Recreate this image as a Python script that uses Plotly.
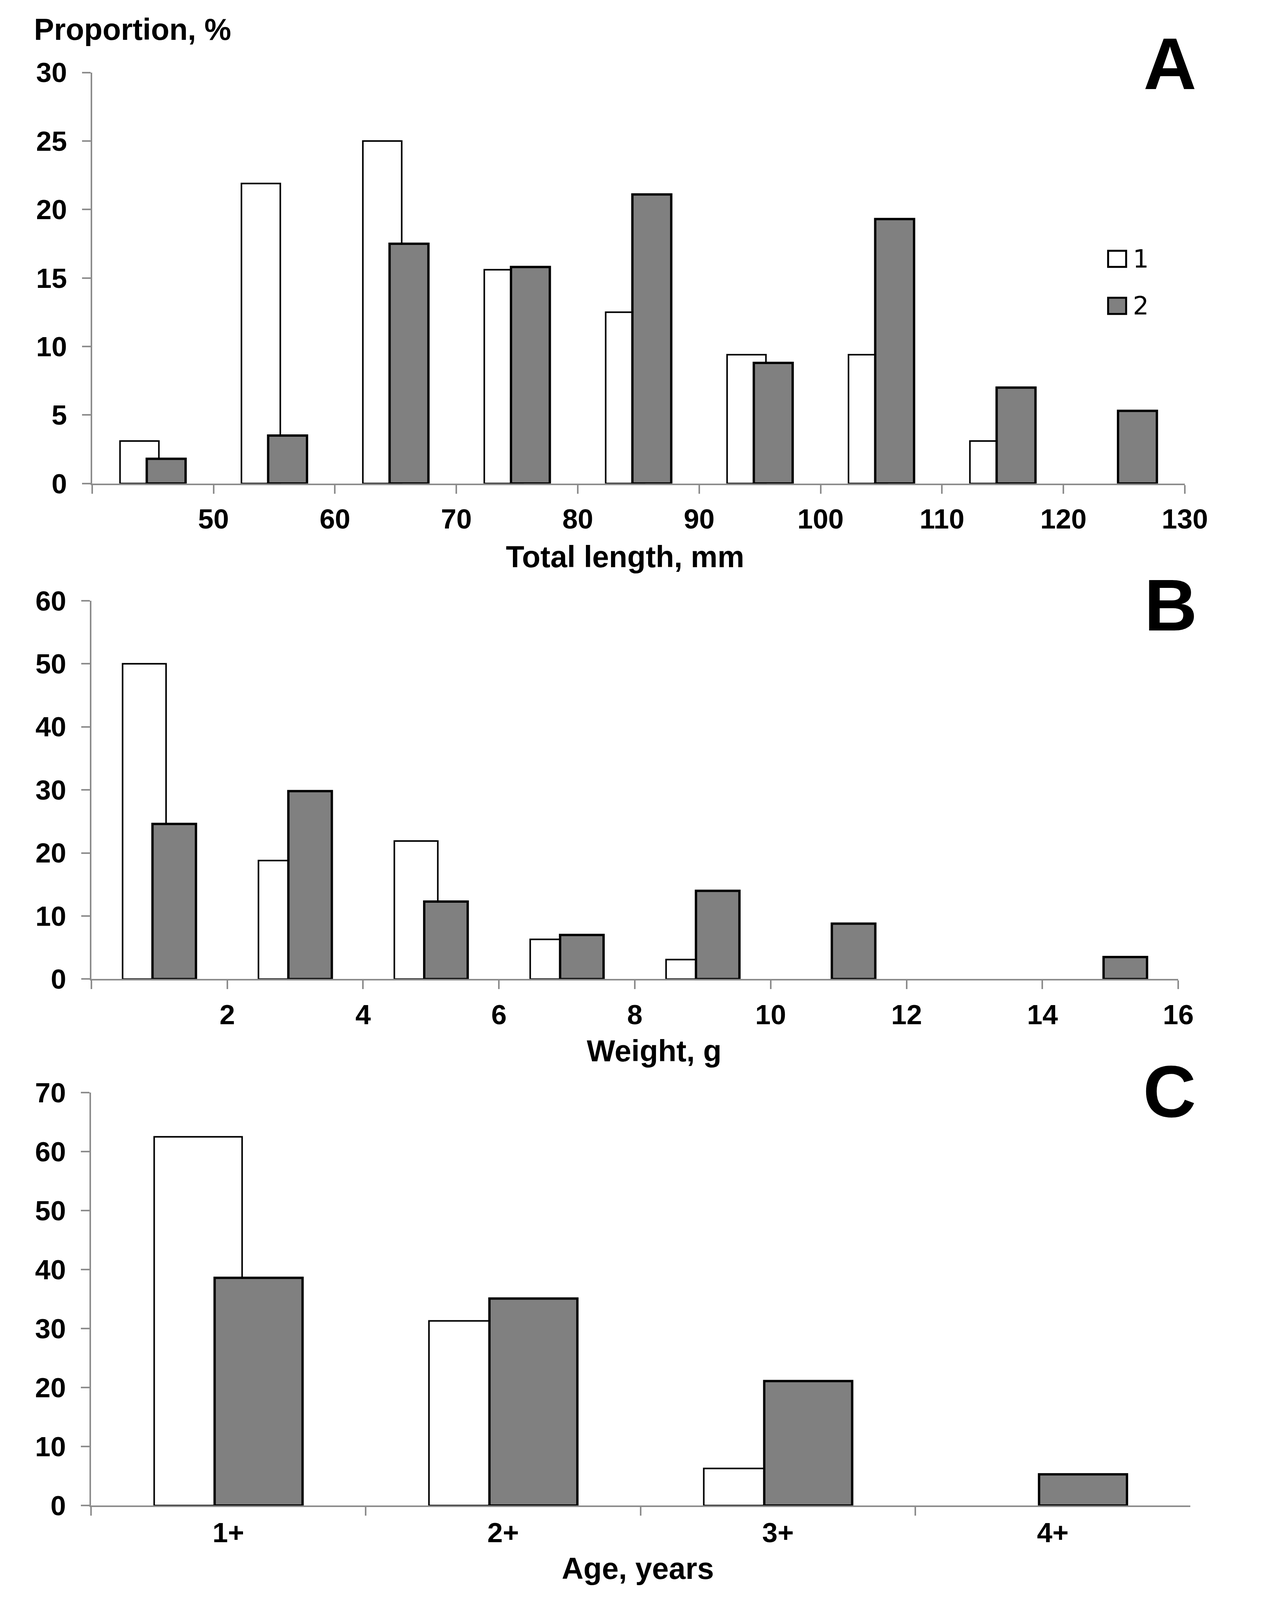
import plotly.graph_objects as go

# Size-structure data (% of fish in each class)
length_bins = [45, 55, 65, 75, 85, 95, 105, 115, 125]
length_1 = [3.1, 21.9, 25.0, 15.6, 12.5, 9.4, 9.4, 3.1, None]
length_2 = [1.8, 3.5, 17.5, 15.8, 21.1, 8.8, 19.3, 7.0, 5.3]

weight_bins = [1, 3, 5, 7, 9, 11, 13, 15]
weight_1 = [50.0, 18.8, 21.9, 6.3, 3.1, None, None, None]
weight_2 = [24.6, 29.8, 12.3, 7.0, 14.0, 8.8, None, 3.5]

age_classes = ["1+", "2+", "3+", "4+"]
age_1 = [62.5, 31.3, 6.3, None]
age_2 = [38.6, 35.1, 21.1, 5.3]

# the photographed page area is shorter than the nominal window, so the
# layout below is laid out in reference pixels and squeezed to fit
FW, FH = 3243, 4120
SY = 4176 / 4765
TOP = 48

FONT = "Liberation Sans, Arial, sans-serif"
AXIS_GREY = "#8c8c8c"
BAR_GREY = "#808080"


def fx(x):
    return (x - 8) / FW


def fy(y):
    return 1 - (y * SY - TOP) / FH


def pair(x, y1, y2, spacing, xa, ya):
    """White bar (series 1) left, grey bar (series 2) right, overlapping a bit."""
    w = 0.32 * spacing
    return [
        go.Bar(x=x, y=y1, width=w, offset=-0.27 * spacing,
               marker=dict(color="white", line=dict(color="black", width=4)),
               xaxis=xa, yaxis=ya, name="1", showlegend=False),
        go.Bar(x=x, y=y2, width=w, offset=-0.05 * spacing,
               marker=dict(color=BAR_GREY, line=dict(color="black", width=6)),
               xaxis=xa, yaxis=ya, name="2", showlegend=False),
    ]


traces = (pair(length_bins, length_1, length_2, 10, "x", "y")
          + pair(weight_bins, weight_1, weight_2, 2, "x2", "y2")
          + pair(age_classes, age_1, age_2, 1, "x3", "y3"))

fig = go.Figure(data=traces)

TICKFONT = dict(family=FONT, size=71, color="black", weight="bold")
AX = dict(
    showline=True, linecolor=AXIS_GREY, linewidth=4,
    ticks="outside", ticklen=22, tickwidth=4, tickcolor=AXIS_GREY,
    showgrid=False, zeroline=False, tickfont=TICKFONT,
)
XAX = dict(AX, ticklabelstandoff=4)
YAX = dict(AX, ticklabelstandoff=24)

len_ticks = list(range(40, 131, 10))
wt_ticks = list(range(0, 17, 2))

fig.update_layout(
    width=FW, height=FH,
    margin=dict(l=0, r=0, t=0, b=0),
    paper_bgcolor="white", plot_bgcolor="white",
    barmode="overlay",
    font=dict(family=FONT, color="black"),
    # panel A
    xaxis=dict(XAX, domain=[fx(240), fx(3089)], range=[40, 130], anchor="y",
               tickvals=len_ticks,
               ticktext=[""] + [str(v) for v in len_ticks[1:]]),
    yaxis=dict(YAX, domain=[fy(1440), fy(216)], range=[0, 30], dtick=5,
               anchor="x"),
    # panel B
    xaxis2=dict(XAX, domain=[fx(238), fx(3072)], range=[0, 16], anchor="y2",
                tickvals=wt_ticks,
                ticktext=[""] + [str(v) for v in wt_ticks[1:]]),
    yaxis2=dict(YAX, domain=[fy(2916), fy(1789)], range=[0, 60], dtick=10,
                anchor="x2"),
    # panel C
    xaxis3=dict(XAX, domain=[fx(237), fx(3103)], type="category",
                tickson="boundaries", range=[-0.5, 3.5], anchor="y3"),
    yaxis3=dict(YAX, domain=[fy(4484), fy(3254)], range=[0, 70], dtick=10,
                anchor="x3"),
)

BOLD = dict(family=FONT, color="black", weight="bold")
LEG = dict(family="DejaVu Sans", size=64, color="black")
notes = [
    dict(text="Proportion, %", x=fx(86), y=fy(87), xanchor="left",
         font=dict(BOLD, size=77)),
    dict(text="A", x=fx(3050), y=fy(190), xanchor="center",
         font=dict(BOLD, size=188)),
    dict(text="B", x=fx(3052), y=fy(1802), xanchor="center",
         font=dict(BOLD, size=188)),
    dict(text="C", x=fx(3049), y=fy(3251), xanchor="center",
         font=dict(BOLD, size=188)),
    dict(text="Total length, mm", x=fx(1630), y=fy(1658), xanchor="center",
         font=dict(BOLD, size=77)),
    dict(text="Weight, g", x=fx(1705), y=fy(3130), xanchor="center",
         font=dict(BOLD, size=77)),
    dict(text="Age, years", x=fx(1663), y=fy(4671), xanchor="center",
         font=dict(BOLD, size=77)),
    dict(text="1", x=fx(2952), y=fy(771), xanchor="left", font=LEG),
    dict(text="2", x=fx(2952), y=fy(911), xanchor="left", font=LEG),
]
fig.update_layout(annotations=[
    dict(n, xref="paper", yref="paper", yanchor="middle", showarrow=False)
    for n in notes
])

# legend swatches
for top, fill in [(747, "white"), (887, BAR_GREY)]:
    fig.add_shape(type="rect", xref="paper", yref="paper",
                  x0=fx(2889), x1=fx(2936), y0=fy(top + 48), y1=fy(top),
                  fillcolor=fill, line=dict(color="black", width=5))

fig.write_html("out.html")
